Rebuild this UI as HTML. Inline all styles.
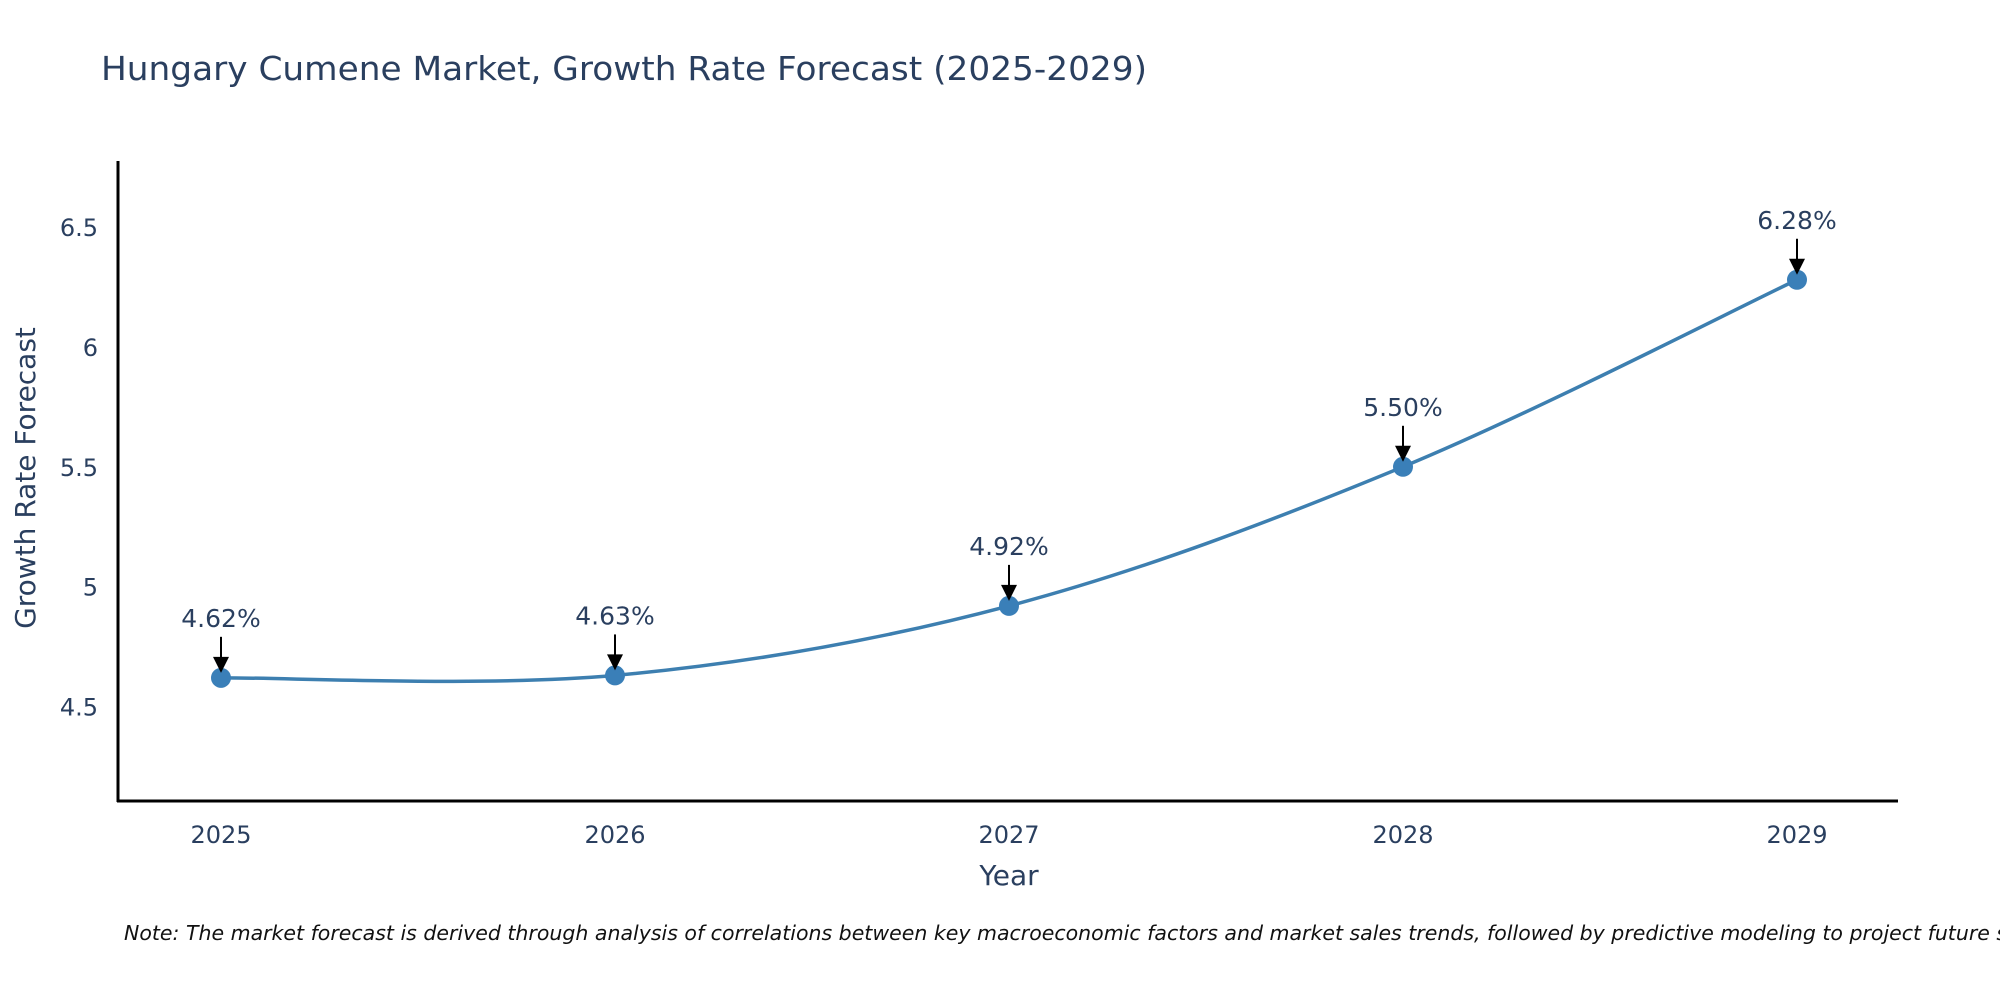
<!DOCTYPE html>
<html><head><meta charset="utf-8"><style>
body{margin:0;background:#fff;}
svg text{font-family:"DejaVu Sans","Liberation Sans",sans-serif;fill:#2a3f5f;}
</style></head><body>
<svg id="chart" width="2000" height="1000" xmlns="http://www.w3.org/2000/svg">
<rect width="2000" height="1000" fill="#fff"/>
<text x="101" y="80" font-size="33" textLength="1046" lengthAdjust="spacingAndGlyphs">Hungary Cumene Market, Growth Rate Forecast (2025-2029)</text>
<g id="axes"></g>
<g id="series"></g>
<text x="1009" y="885" font-size="28" text-anchor="middle">Year</text>
<text transform="translate(35,478) rotate(-90)" font-size="28" text-anchor="middle">Growth Rate Forecast</text>
<text x="124" y="940" font-size="20.5" font-style="italic" style="fill:#111">Note: The market forecast is derived through analysis of correlations between key macroeconomic factors and market sales trends, followed by predictive modeling to project future sales.</text>
</svg>
<script>
const years = [2025, 2026, 2027, 2028, 2029];
const growth = [4.62, 4.63, 4.92, 5.50, 6.28];
const labels = ["4.62%", "4.63%", "4.92%", "5.50%", "6.28%"];
const yTicks = [4.5, 5, 5.5, 6, 6.5];
const yTickLabels = ["4.5", "5", "5.5", "6", "6.5"];

const NS = "http://www.w3.org/2000/svg";
const L = 118, R = 1898, T = 161, B = 801;
const xs = v => 221 + (v - 2025) * (1797 - 221) / 4;
const ys = v => 706.6 - (v - 4.5) * (706.6 - 227) / 2;
function mk(tag, attrs, parent, txt) {
  const e = document.createElementNS(NS, tag);
  for (const k in attrs) e.setAttribute(k, attrs[k]);
  if (txt !== undefined) e.textContent = txt;
  parent.appendChild(e);
  return e;
}
const axes = document.getElementById('axes');
const series = document.getElementById('series');
const yl = mk('line', {x1: L, y1: T, x2: L, y2: B + 1, stroke: '#000', 'stroke-width': 3}, axes);


const xl = mk('line', {x1: L - 1, y1: B, x2: R, y2: B, stroke: '#000', 'stroke-width': 3}, axes);


yTicks.forEach((t, i) => {
  const e = mk('text', {x: L - 20, y: ys(t) + 9, 'font-size': 24, 'text-anchor': 'end'}, axes, yTickLabels[i]);
  
  
});
years.forEach(y => {
  const e = mk('text', {x: xs(y), y: B + 42, 'font-size': 24, 'text-anchor': 'middle'}, axes, String(y));
  
  
});
const P = years.map((y, i) => [xs(y), ys(growth[i])]);
let d = `M${P[0][0]},${P[0][1]}`;
const s = 0.5 / 1.5;
for (let i = 0; i < P.length - 1; i++) {
  const p0 = P[i - 1] || P[i], p1 = P[i], p2 = P[i + 1], p3 = P[i + 2] || P[i + 1];
  const c1 = [p1[0] + (p2[0] - p0[0]) * s / 2, p1[1] + (p2[1] - p0[1]) * s / 2];
  const c2 = [p2[0] - (p3[0] - p1[0]) * s / 2, p2[1] - (p3[1] - p1[1]) * s / 2];
  d += ` C${c1[0]},${c1[1]} ${c2[0]},${c2[1]} ${p2[0]},${p2[1]}`;
}
const line = mk('path', {d: d, fill: 'none', stroke: '#3d7fb0', 'stroke-width': 3.5}, series);


P.forEach((p, i) => {
  const c = mk('circle', {cx: p[0], cy: p[1], r: 10, fill: '#3a7fb8'}, series);
  
  
  const a = mk('line', {x1: p[0], y1: p[1] - 41, x2: p[0], y2: p[1] - 18, stroke: '#000', 'stroke-width': 2}, series);
  
  
  const h = mk('polygon', {points: `${p[0]-8},${p[1]-21} ${p[0]+8},${p[1]-21} ${p[0]},${p[1]-5}`, fill: '#000'}, series);
  
  
  const t = mk('text', {x: p[0], y: p[1] - 51, 'font-size': 25, 'text-anchor': 'middle'}, series, labels[i]);
  
  
});
</script>
</body></html>
